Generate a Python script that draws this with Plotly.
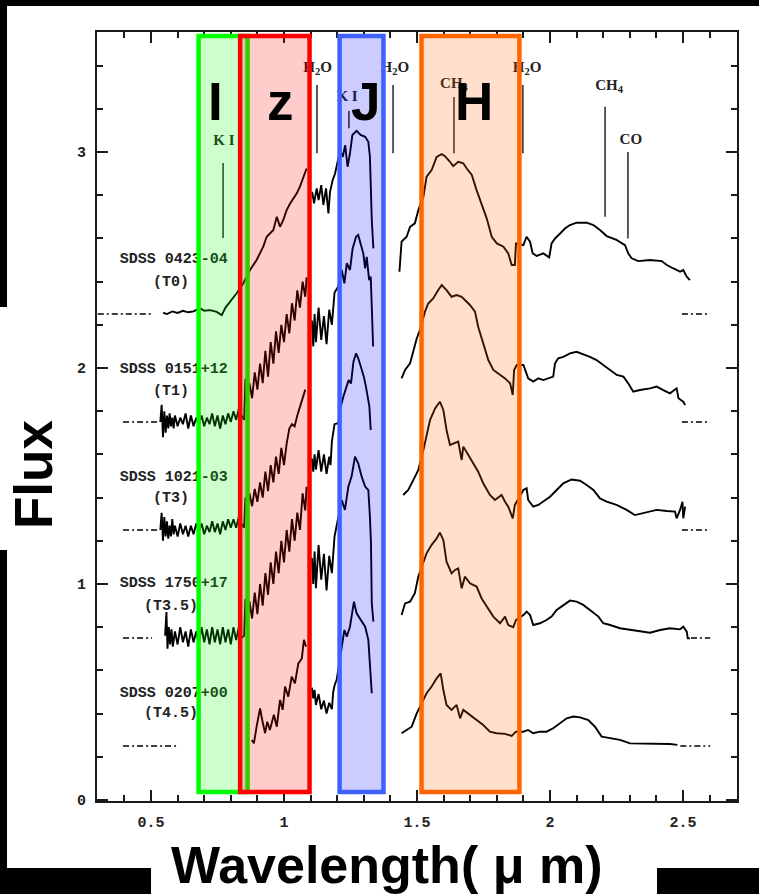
import plotly.graph_objects as go

# ---------------- data ----------------
offsets = [2.25, 1.75, 1.25, 0.75, 0.25]
names = ["SDSS 0423-04", "SDSS 0151+12", "SDSS 1021-03", "SDSS 1750+17", "SDSS 0207+00"]
types = ["(T0)", "(T1)", "(T3)", "(T3.5)", "(T4.5)"]
name_x, type_x = 0.586, 0.575
name_y = [2.505, 1.995, 1.495, 1.005, 0.495]
type_y = [2.398, 1.894, 1.398, 0.898, 0.403]

GAP = (None, None)
t0 = [(0.546, 2.256), (0.56, 2.25), (0.58, 2.262), (0.60, 2.255), (0.62, 2.265), (0.64, 2.258),
      (0.66, 2.262), (0.684, 2.277), (0.70, 2.265), (0.722, 2.268), (0.747, 2.26), (0.766, 2.245),
      (0.78, 2.28), (0.797, 2.307), (0.822, 2.346), (0.847, 2.392), (0.860, 2.423), (0.872, 2.454),
      (0.897, 2.50), (0.922, 2.562), (0.935, 2.608), (0.960, 2.639), (0.973, 2.70), (0.985, 2.654),
      (0.997, 2.685), (1.010, 2.731), (1.023, 2.762), (1.048, 2.809), (1.060, 2.84), (1.079, 2.90),
      (1.085, 2.924), GAP,
      (1.106, 2.816), (1.113, 2.762), (1.123, 2.832), (1.130, 2.778), (1.140, 2.847), (1.148, 2.755),
      (1.158, 2.832), (1.167, 2.716), (1.173, 2.816), (1.183, 2.870), (1.192, 2.901), (1.200, 2.948),
      (1.211, 3.009), (1.221, 2.978), (1.230, 3.032), (1.239, 2.932), (1.248, 2.994), (1.257, 3.079),
      (1.273, 3.098), (1.288, 3.079), (1.305, 3.071), (1.317, 3.048), (1.323, 2.978), (1.330, 2.685),
      (1.336, 2.554), GAP,
      (1.434, 2.446), (1.442, 2.585), (1.461, 2.608), (1.474, 2.654), (1.492, 2.670), (1.505, 2.731),
      (1.524, 2.793), (1.536, 2.886), (1.555, 2.917), (1.574, 2.978), (1.593, 2.991), (1.605, 2.981),
      (1.624, 2.955), (1.636, 2.935), (1.655, 2.955), (1.674, 2.948), (1.687, 2.924), (1.706, 2.894),
      (1.724, 2.824), (1.743, 2.755), (1.762, 2.693), (1.781, 2.608), (1.800, 2.577), (1.825, 2.562),
      (1.843, 2.531), (1.856, 2.477), (1.868, 2.477), (1.872, 2.577), (1.900, 2.569), (1.912, 2.608),
      (1.925, 2.585), (1.935, 2.531), (1.950, 2.519), (1.975, 2.531), (1.997, 2.512), (2.006, 2.577),
      (2.019, 2.600), (2.038, 2.623), (2.056, 2.646), (2.075, 2.662), (2.100, 2.673), (2.138, 2.673),
      (2.163, 2.662), (2.188, 2.639), (2.213, 2.611), (2.250, 2.593), (2.282, 2.569), (2.294, 2.531),
      (2.307, 2.508), (2.332, 2.495), (2.376, 2.500), (2.420, 2.495), (2.439, 2.477), (2.464, 2.461),
      (2.489, 2.446), (2.501, 2.454), (2.514, 2.423), (2.526, 2.407)]

t1 = [(0.535, 1.75), (0.540, 1.83), (0.545, 1.68), (0.550, 1.80), (0.555, 1.70), (0.560, 1.78),
      (0.565, 1.72), (0.570, 1.79), (0.575, 1.73), (0.580, 1.77), (0.585, 1.72), (0.590, 1.78),
      (0.600, 1.73), (0.610, 1.77), (0.620, 1.74), (0.630, 1.79), (0.640, 1.72), (0.650, 1.78),
      (0.660, 1.73), (0.670, 1.77), (0.680, 1.74), (0.690, 1.78), (0.700, 1.73), (0.710, 1.77),
      (0.720, 1.74), (0.730, 1.79), (0.740, 1.73), (0.750, 1.78), (0.760, 1.72), (0.770, 1.78),
      (0.780, 1.74), (0.790, 1.79), (0.800, 1.75), (0.810, 1.80), (0.820, 1.76), (0.830, 1.81),
      (0.840, 1.78), (0.850, 1.76), (0.855, 1.95), (0.86, 1.84), (0.87, 1.93), (0.88, 1.86),
      (0.89, 1.98), (0.90, 1.90), (0.91, 2.02), (0.92, 1.93), (0.93, 2.08), (0.94, 1.96),
      (0.95, 2.12), (0.96, 2.02), (0.97, 2.17), (0.98, 2.07), (0.99, 2.20), (1.00, 2.12),
      (1.01, 2.25), (1.02, 2.16), (1.03, 2.30), (1.04, 2.22), (1.05, 2.36), (1.06, 2.28),
      (1.07, 2.40), (1.08, 2.33), (1.085, 2.42), GAP,
      (1.105, 2.22), (1.11, 2.10), (1.115, 2.25), (1.12, 2.12), (1.13, 2.28), (1.14, 2.13),
      (1.15, 2.24), (1.16, 2.11), (1.17, 2.27), (1.18, 2.20), (1.19, 2.35), (1.204, 2.377),
      (1.217, 2.454), (1.227, 2.392), (1.236, 2.485), (1.248, 2.454), (1.258, 2.554), (1.271, 2.608),
      (1.279, 2.616), (1.288, 2.577), (1.298, 2.531), (1.305, 2.461), (1.311, 2.515), (1.320, 2.407),
      (1.326, 2.423), (1.330, 2.284), (1.333, 2.130), (1.335, 2.10), GAP,
      (1.442, 1.952), (1.455, 1.991), (1.474, 2.022), (1.486, 2.083), (1.499, 2.137), (1.511, 2.176),
      (1.530, 2.261), (1.542, 2.299), (1.561, 2.322), (1.580, 2.361), (1.593, 2.384), (1.611, 2.361),
      (1.630, 2.330), (1.649, 2.338), (1.668, 2.330), (1.680, 2.315), (1.699, 2.292), (1.718, 2.261),
      (1.730, 2.191), (1.749, 2.114), (1.768, 2.037), (1.787, 1.991), (1.812, 1.968), (1.831, 1.952),
      (1.850, 1.929), (1.860, 1.875), (1.865, 1.991), (1.875, 2.014), (1.900, 2.014), (1.906, 1.991),
      (1.918, 1.952), (1.937, 1.937), (1.956, 1.952), (1.975, 1.944), (1.994, 1.952), (2.012, 1.960),
      (2.019, 2.022), (2.031, 2.045), (2.050, 2.052), (2.075, 2.068), (2.100, 2.075), (2.125, 2.065),
      (2.150, 2.052), (2.175, 2.037), (2.200, 2.014), (2.226, 1.991), (2.251, 1.968), (2.276, 1.960),
      (2.294, 1.929), (2.313, 1.890), (2.338, 1.898), (2.376, 1.906), (2.401, 1.914), (2.426, 1.898),
      (2.451, 1.883), (2.476, 1.906), (2.483, 1.860), (2.501, 1.844), (2.508, 1.829)]

t2 = [(0.535, 1.25), (0.540, 1.33), (0.545, 1.20), (0.550, 1.31), (0.555, 1.22), (0.560, 1.29),
      (0.565, 1.21), (0.570, 1.27), (0.575, 1.22), (0.580, 1.30), (0.585, 1.23), (0.590, 1.27),
      (0.600, 1.22), (0.610, 1.28), (0.620, 1.23), (0.630, 1.27), (0.640, 1.22), (0.650, 1.27),
      (0.660, 1.23), (0.670, 1.28), (0.680, 1.24), (0.690, 1.28), (0.700, 1.23), (0.710, 1.27),
      (0.720, 1.24), (0.730, 1.29), (0.740, 1.24), (0.750, 1.28), (0.760, 1.23), (0.770, 1.29),
      (0.780, 1.25), (0.790, 1.30), (0.800, 1.26), (0.810, 1.30), (0.820, 1.26), (0.830, 1.31),
      (0.840, 1.28), (0.850, 1.26), (0.855, 1.40), (0.86, 1.33), (0.87, 1.42), (0.88, 1.36),
      (0.89, 1.44), (0.90, 1.38), (0.91, 1.47), (0.92, 1.40), (0.93, 1.52), (0.94, 1.43),
      (0.95, 1.55), (0.96, 1.47), (0.97, 1.59), (0.98, 1.51), (0.99, 1.63), (1.00, 1.55),
      (1.01, 1.65), (1.02, 1.72), (1.03, 1.74), (1.04, 1.73), (1.05, 1.78), (1.06, 1.82),
      (1.07, 1.86), (1.08, 1.90), GAP,
      (1.105, 1.58), (1.11, 1.52), (1.115, 1.60), (1.12, 1.53), (1.13, 1.62), (1.14, 1.52),
      (1.15, 1.60), (1.16, 1.51), (1.17, 1.59), (1.175, 1.55), (1.18, 1.66), (1.19, 1.74),
      (1.204, 1.744), (1.213, 1.821), (1.223, 1.867), (1.233, 1.906), (1.243, 1.944), (1.252, 1.929),
      (1.261, 2.029), (1.271, 2.068), (1.279, 2.045), (1.289, 2.006), (1.300, 1.960), (1.308, 1.914),
      (1.316, 1.867), (1.321, 1.821), (1.326, 1.713), GAP,
      (1.448, 1.412), (1.467, 1.435), (1.486, 1.481), (1.505, 1.528), (1.524, 1.620), (1.536, 1.682),
      (1.549, 1.759), (1.568, 1.813), (1.586, 1.844), (1.599, 1.806), (1.611, 1.713), (1.624, 1.644),
      (1.643, 1.651), (1.655, 1.659), (1.668, 1.574), (1.674, 1.636), (1.693, 1.597), (1.712, 1.559),
      (1.730, 1.520), (1.749, 1.466), (1.774, 1.412), (1.793, 1.389), (1.818, 1.412), (1.831, 1.381),
      (1.843, 1.358), (1.860, 1.304), (1.868, 1.366), (1.900, 1.435), (1.912, 1.443), (1.918, 1.389),
      (1.937, 1.358), (1.956, 1.366), (1.975, 1.381), (2.000, 1.404), (2.025, 1.435), (2.050, 1.466),
      (2.081, 1.484), (2.113, 1.478), (2.138, 1.458), (2.163, 1.435), (2.188, 1.396), (2.213, 1.381),
      (2.250, 1.366), (2.288, 1.343), (2.319, 1.319), (2.351, 1.327), (2.401, 1.343), (2.439, 1.338),
      (2.470, 1.335), (2.476, 1.304), (2.489, 1.343), (2.498, 1.381), (2.501, 1.304), (2.508, 1.358)]

t35 = [(0.553, 0.76), (0.558, 0.87), (0.562, 0.70), (0.567, 0.80), (0.572, 0.72), (0.577, 0.79),
       (0.582, 0.71), (0.590, 0.78), (0.600, 0.72), (0.610, 0.80), (0.620, 0.73), (0.630, 0.78),
       (0.640, 0.71), (0.650, 0.79), (0.660, 0.73), (0.670, 0.78), (0.680, 0.72), (0.690, 0.80),
       (0.700, 0.73), (0.710, 0.79), (0.720, 0.72), (0.730, 0.80), (0.740, 0.73), (0.750, 0.79),
       (0.760, 0.72), (0.770, 0.80), (0.780, 0.73), (0.790, 0.79), (0.800, 0.72), (0.810, 0.80),
       (0.820, 0.74), (0.830, 0.80), (0.840, 0.75), (0.850, 0.76), (0.855, 0.93), (0.86, 0.80),
       (0.87, 0.92), (0.88, 0.84), (0.89, 0.96), (0.90, 0.86), (0.91, 1.00), (0.92, 0.90),
       (0.93, 1.05), (0.94, 0.95), (0.95, 1.10), (0.96, 1.00), (0.97, 1.15), (0.98, 1.05),
       (0.99, 1.20), (1.00, 1.10), (1.01, 1.25), (1.02, 1.15), (1.03, 1.30), (1.04, 1.20),
       (1.05, 1.33), (1.06, 1.25), (1.07, 1.42), (1.08, 1.34), (1.085, 1.45), GAP,
       (1.105, 1.12), (1.11, 1.00), (1.115, 1.15), (1.12, 0.98), (1.13, 1.18), (1.14, 1.02),
       (1.15, 1.14), (1.16, 0.97), (1.17, 1.13), (1.18, 1.05), (1.19, 1.22), (1.204, 1.312),
       (1.217, 1.389), (1.229, 1.343), (1.242, 1.451), (1.254, 1.497), (1.267, 1.589), (1.279, 1.559),
       (1.292, 1.497), (1.305, 1.451), (1.317, 1.435), (1.323, 1.312), (1.327, 1.188), (1.330, 0.910),
       (1.336, 0.826), GAP,
       (1.442, 0.856), (1.455, 0.910), (1.474, 0.918), (1.492, 0.957), (1.505, 1.034), (1.524, 1.096),
       (1.536, 1.142), (1.555, 1.181), (1.574, 1.211), (1.586, 1.238), (1.599, 1.204), (1.611, 1.103),
       (1.630, 1.049), (1.643, 1.065), (1.655, 1.072), (1.668, 0.980), (1.680, 1.034), (1.699, 1.003),
       (1.724, 0.988), (1.743, 0.933), (1.762, 0.895), (1.787, 0.849), (1.812, 0.818), (1.831, 0.849),
       (1.843, 0.810), (1.862, 0.800), (1.872, 0.833), (1.900, 0.856), (1.912, 0.872), (1.925, 0.856),
       (1.937, 0.810), (1.962, 0.818), (1.987, 0.833), (2.006, 0.849), (2.025, 0.880), (2.050, 0.903),
       (2.075, 0.923), (2.100, 0.918), (2.125, 0.903), (2.150, 0.880), (2.182, 0.849), (2.200, 0.818),
       (2.226, 0.810), (2.263, 0.795), (2.301, 0.787), (2.338, 0.779), (2.376, 0.774), (2.414, 0.787),
       (2.451, 0.795), (2.489, 0.790), (2.501, 0.802), (2.514, 0.779), (2.518, 0.748), (2.526, 0.748)]

t45 = [(0.879, 0.278), (0.887, 0.262), (0.897, 0.339), (0.910, 0.424), (0.918, 0.370), (0.929, 0.309),
       (0.937, 0.362), (0.947, 0.324), (0.962, 0.394), (0.973, 0.339), (0.985, 0.463), (0.995, 0.417),
       (1.004, 0.525), (1.016, 0.478), (1.029, 0.571), (1.041, 0.540), (1.054, 0.632), (1.067, 0.655),
       (1.075, 0.741), (1.083, 0.710), GAP,
       (1.105, 0.52), (1.11, 0.47), (1.115, 0.51), (1.12, 0.44), (1.13, 0.49), (1.14, 0.42),
       (1.15, 0.46), (1.16, 0.40), (1.17, 0.45), (1.18, 0.42), (1.185, 0.50), (1.19, 0.53),
       (1.198, 0.556), (1.217, 0.694), (1.227, 0.787), (1.236, 0.756), (1.248, 0.802), (1.254, 0.849),
       (1.263, 0.918), (1.273, 0.864), (1.286, 0.840), (1.305, 0.802), (1.317, 0.741), (1.323, 0.632),
       (1.330, 0.494), GAP,
       (1.442, 0.309), (1.461, 0.324), (1.480, 0.339), (1.499, 0.401), (1.518, 0.448), (1.536, 0.494),
       (1.555, 0.525), (1.574, 0.563), (1.589, 0.586), (1.599, 0.509), (1.611, 0.440), (1.630, 0.417),
       (1.649, 0.440), (1.662, 0.378), (1.674, 0.417), (1.699, 0.394), (1.724, 0.370), (1.749, 0.347),
       (1.774, 0.316), (1.799, 0.309), (1.831, 0.306), (1.856, 0.296), (1.872, 0.316), (1.900, 0.316),
       (1.918, 0.324), (1.937, 0.309), (1.962, 0.316), (1.987, 0.316), (2.012, 0.332), (2.038, 0.355),
       (2.063, 0.378), (2.088, 0.386), (2.113, 0.382), (2.144, 0.370), (2.169, 0.339), (2.194, 0.293),
       (2.226, 0.285), (2.263, 0.278), (2.301, 0.262), (2.351, 0.262), (2.401, 0.259), (2.451, 0.259),
       (2.479, 0.255)]

spectra = [t0, t1, t2, t35, t45]

# zero-level dash marks (left and right)
zero_left_x0 = [0.30, 0.395, 0.395, 0.395, 0.395]
zero_left_x1 = [0.50, 0.534, 0.534, 0.504, 0.598]
zero_right_x0 = [2.496, 2.496, 2.496, 2.53, 2.49]
zero_right_x1 = [2.602, 2.602, 2.602, 2.602, 2.602]

# absorption features
feat_x = [0.771, 1.124, 1.244, 1.410, 1.639, 1.898, 2.207, 2.293]
feat_y0 = [2.602, 2.995, 3.11, 2.995, 2.995, 2.995, 2.70, 2.60]
feat_y1 = [2.949, 3.31, 3.19, 3.31, 3.255, 3.31, 3.21, 3.00]
feat_text = ["K I", "H<sub>2</sub>O", "K I", "H<sub>2</sub>O", "CH<sub>4</sub>",
             "H<sub>2</sub>O", "CH<sub>4</sub>", "CO"]
feat_tx = [0.774, 1.126, 1.237, 1.417, 1.639, 1.914, 2.222, 2.304]
feat_ty = [3.051, 3.389, 3.255, 3.389, 3.315, 3.389, 3.306, 3.056]

# photometric bands
band_names = ["I", "z", "J", "H"]
band_x0 = [0.679, 0.835, 1.209, 1.517]
band_x1 = [0.863, 1.096, 1.374, 1.885]
band_y0, band_y1 = 0.037, 3.537
band_line = ["#00ff00", "#ff0000", "#3f62ff", "#ff6600"]
band_fill = ["rgba(0,255,0,0.2)", "rgba(255,0,0,0.2)", "rgba(0,0,255,0.2)", "rgba(255,102,0,0.2)"]
band_label_x = [0.741, 0.985, 1.308, 1.714]
band_label_y = 3.234

x_ticks = [0.5, 1, 1.5, 2, 2.5]
x_ticktext = ["0.5", "1", "1.5", "2", "2.5"]
y_ticks = [0, 1, 2, 3]
y_ticktext = ["0", "1", "2", "3"]
x_minor = [0.4, 0.6, 0.7, 0.8, 0.9, 1.1, 1.2, 1.3, 1.4, 1.6, 1.7, 1.8, 1.9, 2.1, 2.2, 2.3, 2.4, 2.6]
y_minor = [0.2, 0.4, 0.6, 0.8, 1.2, 1.4, 1.6, 1.8, 2.2, 2.4, 2.6, 2.8, 3.2, 3.4]

# ---------------- figure ----------------
fig = go.Figure()
INK = "#1a1a1a"

for spec in spectra:
    fig.add_trace(go.Scatter(x=[p[0] for p in spec], y=[p[1] for p in spec], mode="lines",
                             line=dict(color="black", width=1.9), connectgaps=False,
                             hoverinfo="skip"))

dx, dy = [], []
for i, off in enumerate(offsets):
    dx += [zero_left_x0[i], zero_left_x1[i], None, zero_right_x0[i], zero_right_x1[i], None]
    dy += [off, off, None, off, off, None]
fig.add_trace(go.Scatter(x=dx, y=dy, mode="lines", connectgaps=False, hoverinfo="skip",
                         line=dict(color="black", width=1.6, dash="6px,3px,2px,3px")))

lx, ly = [], []
for x, a, b in zip(feat_x, feat_y0, feat_y1):
    lx += [x, x, None]
    ly += [a, b, None]
fig.add_trace(go.Scatter(x=lx, y=ly, mode="lines", connectgaps=False, hoverinfo="skip",
                         line=dict(color="#333333", width=1.6)))
fig.add_trace(go.Scatter(x=feat_tx, y=feat_ty, mode="text", text=feat_text, hoverinfo="skip",
                         textfont=dict(family="Liberation Serif", size=15, color="#222222",
                                       weight="bold")))

fig.add_trace(go.Scatter(x=[name_x] * len(names), y=name_y, mode="text", text=names, hoverinfo="skip",
                         textfont=dict(family="Liberation Mono", size=15, color="#222222",
                                       weight="bold")))
fig.add_trace(go.Scatter(x=[type_x] * len(types), y=type_y, mode="text", text=types, hoverinfo="skip",
                         textfont=dict(family="Liberation Mono", size=15, color="#222222",
                                       weight="bold")))

shapes = []
# background frame pieces (paper coordinates)
black_boxes = [(-0.1516, 1.0338, 1.0344, 1.05), (-0.16, 0.6424, -0.1406, 1.05),
               (-0.16, -0.0871, -0.1406, 0.3264), (-0.16, -0.13, 0.0844, -0.0871),
               (0.875, -0.13, 1.05, -0.0871)]
for x0, y0, x1, y1 in black_boxes:
    shapes.append(dict(type="rect", xref="paper", yref="paper", x0=x0, y0=y0, x1=x1, y1=y1,
                       fillcolor="black", line=dict(width=0), layer="below"))
for i in range(len(band_names)):
    shapes.append(dict(type="rect", xref="x", yref="y", x0=band_x0[i], x1=band_x1[i],
                       y0=band_y0, y1=band_y1, fillcolor=band_fill[i],
                       line=dict(color=band_line[i], width=4.5), layer="above"))

annotations = []
for i, nm in enumerate(band_names):
    annotations.append(dict(x=band_label_x[i], y=band_label_y, xref="x", yref="y", text=nm,
                            showarrow=False, xanchor="center", yanchor="middle",
                            font=dict(family="Liberation Sans", size=53, color="black",
                                      weight="bold")))
annotations.append(dict(x=-0.1, y=0.4239, xref="paper", yref="paper", text="Flux", textangle=-90,
                        showarrow=False, xanchor="center", yanchor="middle",
                        font=dict(family="Liberation Sans", size=53, color="black", weight="bold")))
annotations.append(dict(x=0.4531, y=-0.0832, xref="paper", yref="paper", text="Wavelength( μ m)",
                        showarrow=False, xanchor="center", yanchor="middle",
                        font=dict(family="Liberation Sans", size=52, color="black", weight="bold")))

axis_common = dict(showline=True, linecolor=INK, linewidth=2, mirror="ticks", ticks="inside",
                   ticklen=11, tickwidth=1.5, tickcolor=INK, showgrid=False, zeroline=False,
                   tickfont=dict(family="Liberation Mono", size=15, color="#222222", weight="bold"))

fig.update_layout(
    width=759, height=894,
    margin=dict(l=97, r=22, t=32, b=93, autoexpand=False),
    paper_bgcolor="white", plot_bgcolor="white",
    showlegend=False, hovermode=False,
    shapes=shapes, annotations=annotations,
    xaxis=dict(range=[0.297, 2.703], tickmode="array", tickvals=x_ticks, ticktext=x_ticktext,
               minor=dict(tickvals=x_minor, ticks="inside", ticklen=6, tickwidth=1.5, tickcolor=INK),
               ticklabelstandoff=6, **axis_common),
    yaxis=dict(range=[-0.005, 3.556], tickmode="array", tickvals=y_ticks, ticktext=y_ticktext,
               minor=dict(tickvals=y_minor, ticks="inside", ticklen=6, tickwidth=1.5, tickcolor=INK),
               ticklabelstandoff=6, **axis_common),
)

fig.write_html("out.html")
